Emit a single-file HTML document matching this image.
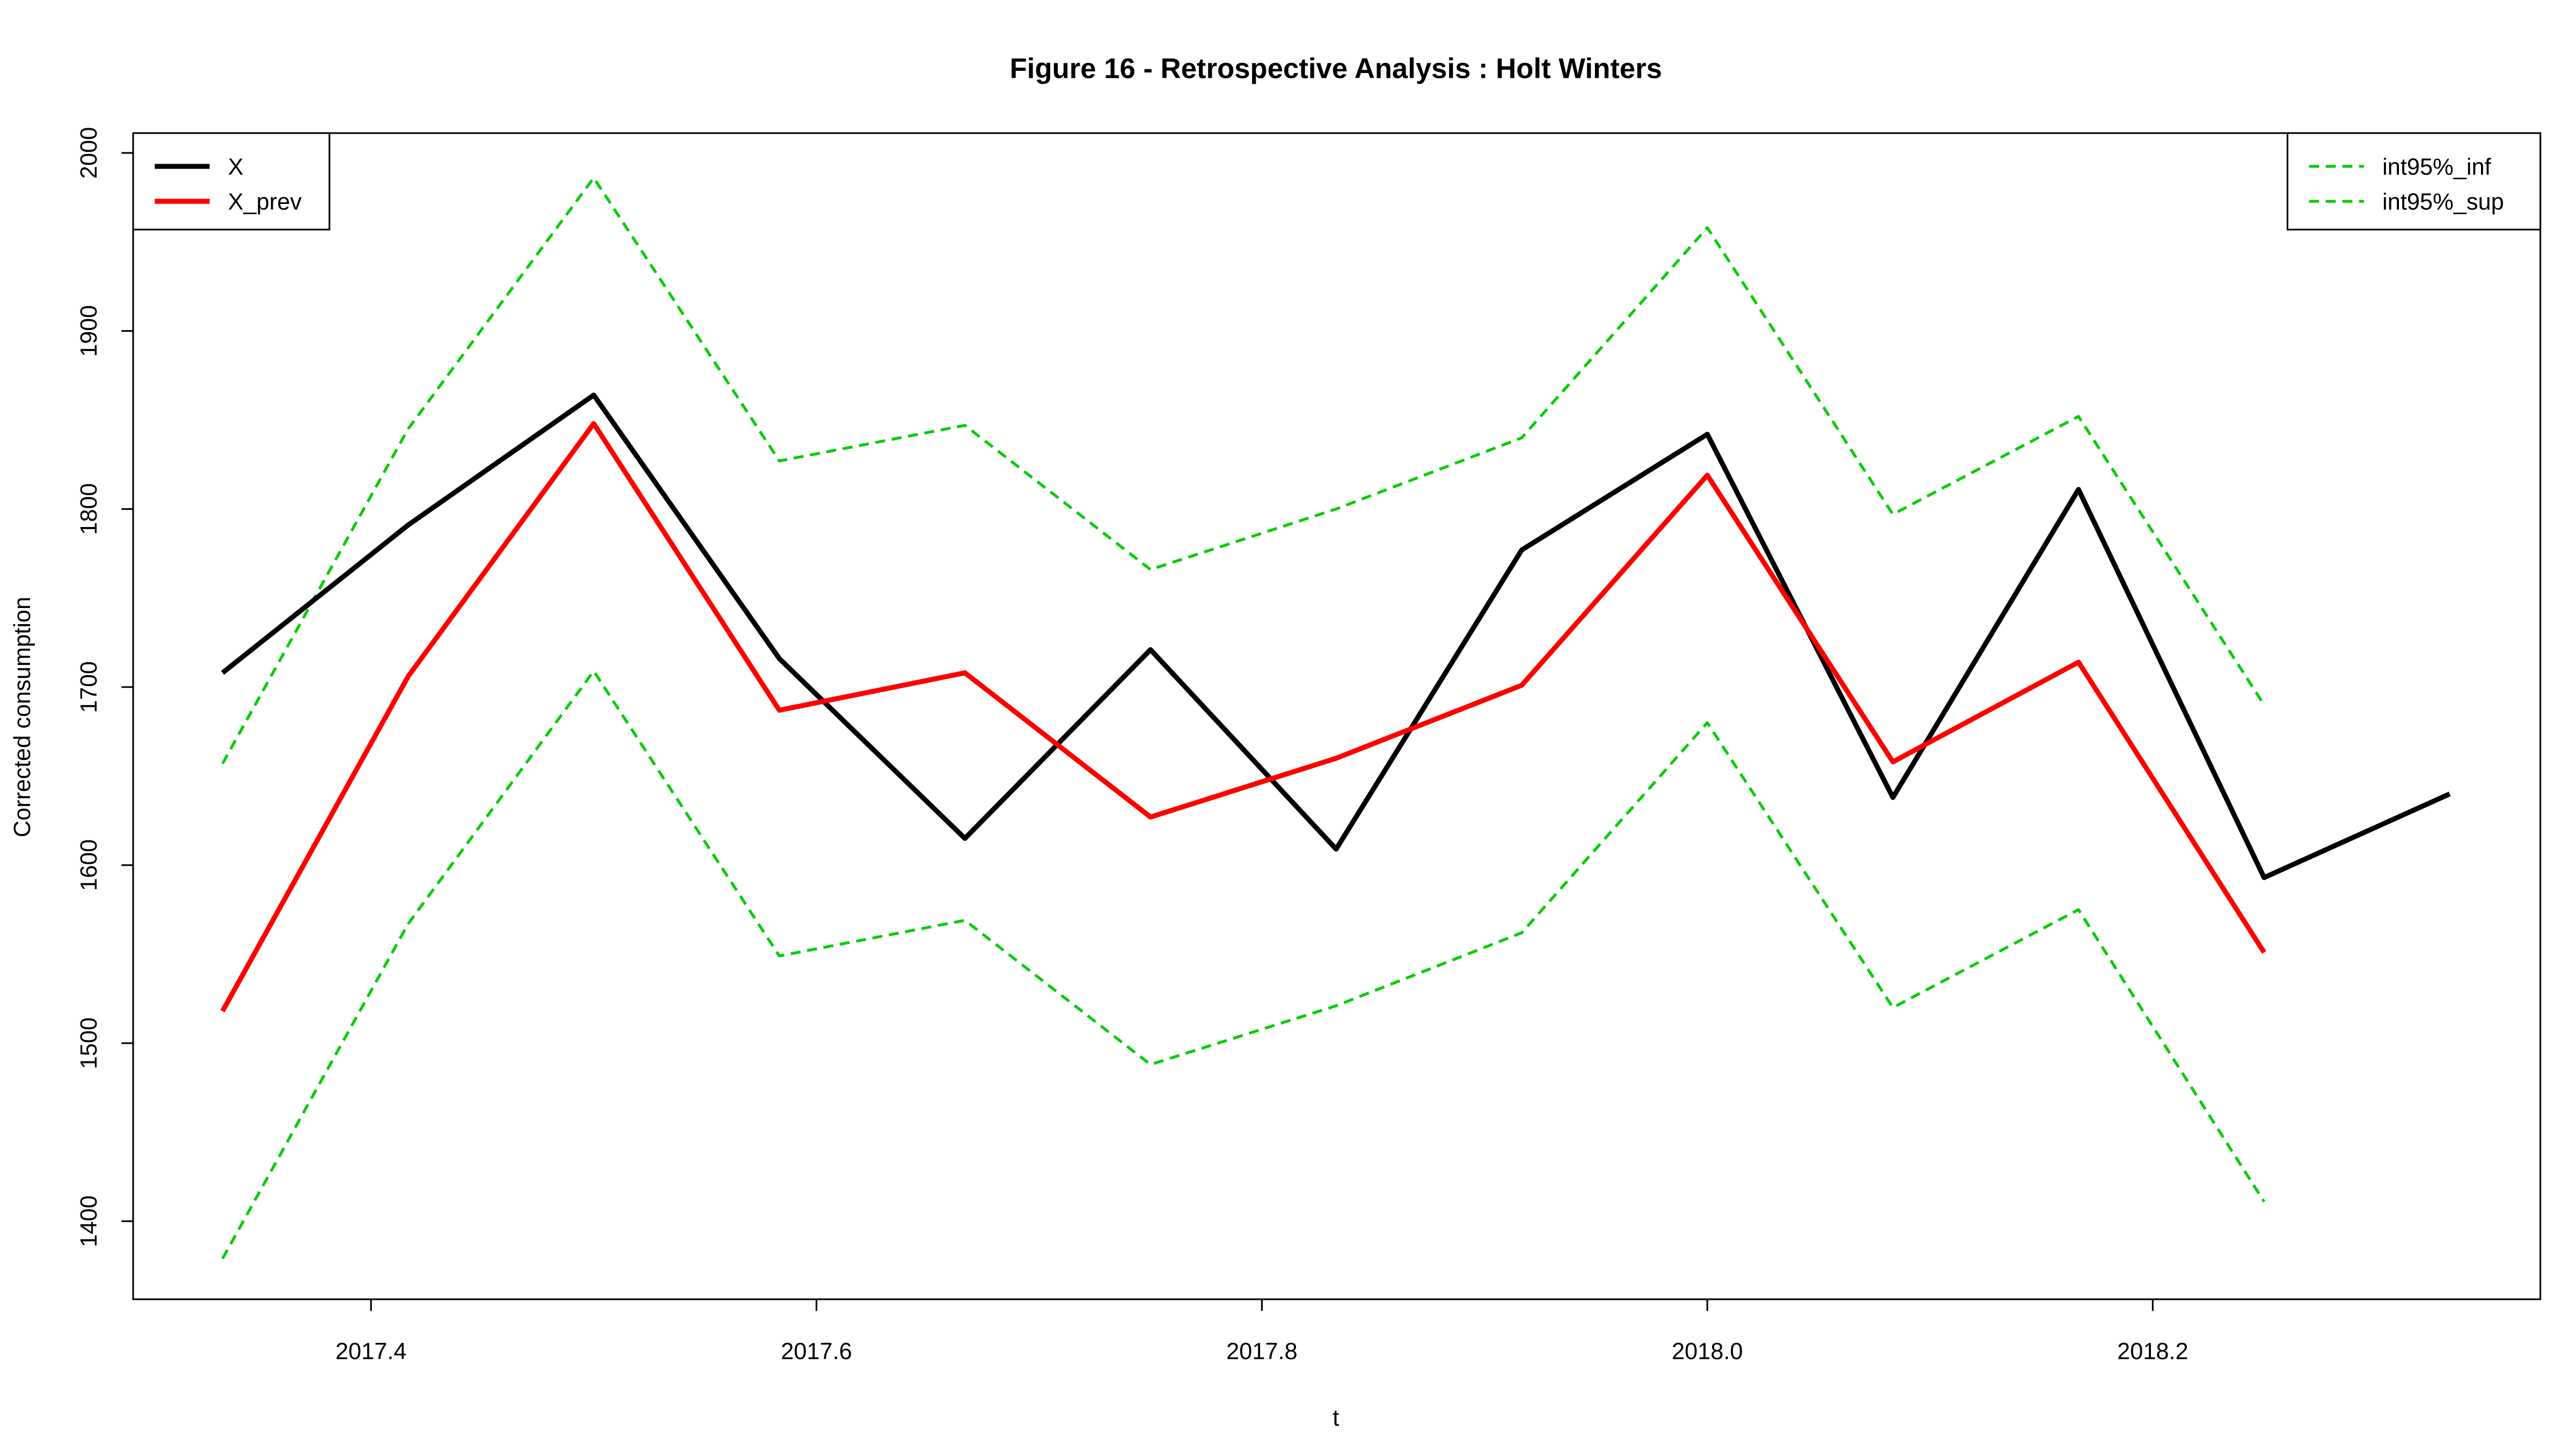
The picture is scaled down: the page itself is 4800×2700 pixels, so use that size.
<!DOCTYPE html>
<html><head><meta charset="utf-8"><style>
html,body{margin:0;padding:0;background:#fff;}
svg{display:block;font-family:"Liberation Sans",Arial,sans-serif;}
</style></head><body>
<svg id="chart" width="4800" height="2700" viewBox="0 0 1548.4 871" xmlns="http://www.w3.org/2000/svg">
<rect width="1548.4" height="871" fill="#fff"/>
<text x="803" y="47" text-anchor="middle" font-size="17" font-weight="bold">Figure 16 - Retrospective Analysis : Holt Winters</text>
<rect x="80" y="80" width="1447" height="701" fill="none" stroke="#000" stroke-width="1"/>
<g id="xaxis"></g>
<g id="yaxis"></g>
<text x="803" y="857" text-anchor="middle" font-size="14">t</text>
<text transform="translate(18,431) rotate(-90)" text-anchor="middle" font-size="14">Corrected consumption</text>
<g id="series"></g>
<g>
<rect x="80" y="80" width="118" height="58" fill="#fff" stroke="#000"/>
<line x1="93" y1="100" x2="126" y2="100" stroke="#000" stroke-width="3"/>
<text x="137" y="105" font-size="14">X</text>
<line x1="93" y1="121" x2="126" y2="121" stroke="#f00" stroke-width="3"/>
<text x="137" y="126" font-size="14">X_prev</text>
</g>
<g>
<rect x="1375" y="80" width="152" height="58" fill="#fff" stroke="#000"/>
<line x1="1388" y1="100" x2="1421" y2="100" stroke="#00cd00" stroke-width="1.7" stroke-dasharray="6,4"/>
<text x="1432" y="105" font-size="14">int95%_inf</text>
<line x1="1388" y1="121" x2="1421" y2="121" stroke="#00cd00" stroke-width="1.7" stroke-dasharray="6,4"/>
<text x="1432" y="126" font-size="14">int95%_sup</text>
</g>
</svg>
<script>
const xTicks=[2017.4,2017.6,2017.8,2018.0,2018.2];
const xTickLabels=["2017.4","2017.6","2017.8","2018.0","2018.2"];
const yTicks=[1400,1500,1600,1700,1800,1900,2000];
const startT=2017+4/12;
const seriesX=[1708,1791,1864,1716,1615,1721,1609,1777,1842,1638,1811,1593,1640];
const seriesXPrev=[1518,1706,1848,1687,1708,1627,1660,1701,1819,1658,1714,1551];
const seriesSup=[1657,1845,1986,1827,1847,1766,1800,1840,1958,1797,1852,1690];
const seriesInf=[1379,1567,1709,1549,1569,1488,1521,1562,1680,1520,1575,1411];

const NS="http://www.w3.org/2000/svg";
function xs(t){return 223+(t-2017.4)/0.2*267.75;}
function ys(v){return 413-(v-1700)*1.0703;}
function mk(tag,attrs,parent){const e=document.createElementNS(NS,tag);for(const k in attrs)e.setAttribute(k,attrs[k]);parent.appendChild(e);return e;}
const xa=document.getElementById('xaxis'),ya=document.getElementById('yaxis'),sg=document.getElementById('series');
xTicks.forEach((t,i)=>{
  const l=mk('line',{x1:xs(t),x2:xs(t),y1:781,y2:788,stroke:'#000'},xa);
  
  
  const tx=mk('text',{x:xs(t),y:817,'text-anchor':'middle','font-size':14},xa);
  tx.textContent=xTickLabels[i];
  
  
});
yTicks.forEach(v=>{
  const l=mk('line',{x1:73,x2:80,y1:ys(v),y2:ys(v),stroke:'#000'},ya);
  
  
  const tx=mk('text',{transform:`translate(58,${ys(v)}) rotate(-90)`,'text-anchor':'middle','font-size':14},ya);
  tx.textContent=String(v);
  
  
});
function line(arr,color,w,dash,name){
  const pts=arr.map((v,i)=>xs(startT+i/12).toFixed(2)+','+ys(v).toFixed(2)).join(' ');
  const p=mk('polyline',{points:pts,fill:'none',stroke:color,'stroke-width':w,'stroke-linejoin':'round'},sg);
  if(dash)p.setAttribute('stroke-dasharray',dash);
  
  
}
line(seriesSup,'#00cd00',1.7,'6,4','line-int95-sup');
line(seriesInf,'#00cd00',1.7,'6,4','line-int95-inf');
line(seriesX,'#000',3,null,'line-x');
line(seriesXPrev,'#f00',3,null,'line-x-prev');
</script>
</body></html>
